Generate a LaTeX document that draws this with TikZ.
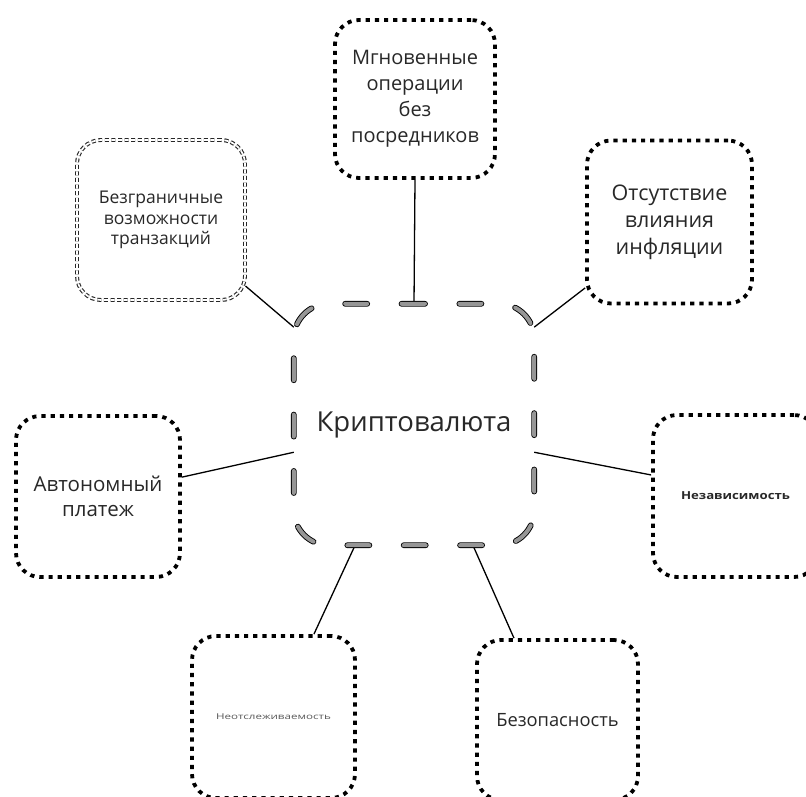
\documentclass[tikz,border=0pt]{standalone}
\usepackage{fontspec}
\setmainfont{Open Sans}
\usepackage{graphicx}
\definecolor{capgray}{RGB}{150,150,150}
\definecolor{txt}{RGB}{40,40,40}
\tikzset{
  dotbox/.style={draw=black, line width=3.8pt, dash pattern=on 4.2pt off 5pt, rounded corners=24pt, inner sep=0pt, align=center, text=txt},
  dblbox/.style={draw=black!85, line width=1.1pt, double=white, double distance=1.7pt, dash pattern=on 4pt off 2.6pt, rounded corners=24pt, inner sep=0pt, align=center, text=txt},
  conn/.style={draw=black, line width=1.3pt},
  core/.style={draw=black, line width=0.9pt, double=capgray, double distance=4pt, line cap=round, dash pattern=on 22pt off 34.375pt, dash phase=11pt, rounded corners=35pt},
  plain/.style={inner sep=0pt, align=center, text=txt}
}
\begin{document}
\begin{tikzpicture}[x=1pt,y=-1pt]
\useasboundingbox (0,0) rectangle (806,796);
\clip (0,0) rectangle (806,796);
\fill[white] (0,0) rectangle (806,796);

\node[plain, minimum width=240pt, minimum height=241pt, font=\fontsize{27.5}{32}\selectfont] (c) at (414,424.5) {Криптовалюта};

\node[dotbox, minimum width=160pt, minimum height=158pt, font=\fontsize{20}{26}\selectfont] (t) at (415,99)
  {Мгновенные\\операции\\без\\посредников};
\node[dblbox, minimum width=168pt, minimum height=160pt, font=\fontsize{17.5}{20.5}\selectfont] (tl) at (161,220)
  {Безграничные\\возможности\\транзакций};
\node[dotbox, minimum width=165pt, minimum height=163pt, font=\fontsize{21.5}{27}\selectfont] (tr) at (669.5,222)
  {Отсутствие\\влияния\\инфляции};
\node[dotbox, minimum width=164pt, minimum height=161pt, font=\fontsize{20.5}{25}\selectfont] (l) at (98,496.5)
  {Автономный\\платеж};
\node[dotbox, minimum width=165pt, minimum height=162pt] (r) at (735.5,496)
  {\scalebox{1.2}[1]{\fontsize{11}{13}\selectfont\bfseries Независимость}};
\node[dotbox, minimum width=163pt, minimum height=162pt] (bl) at (273.5,717)
  {\scalebox{1.45}[1]{\fontsize{8}{9}\selectfont\color{black!65}Неотслеживаемость}};
\node[dotbox, minimum width=161pt, minimum height=160pt, font=\fontsize{18.3}{21}\selectfont] (br) at (557.5,720)
  {Безопасность};

\draw[conn] (t.south) -- (c.north);
\draw[conn] (tl.-38) -- (c.141);
\draw[conn] (tr.-142) -- (c.39);
\draw[conn] (l.13) -- (c.-167);
\draw[conn] (r.166) -- (c.-13);
\draw[conn] (bl.64) -- (c.-116);
\draw[conn] (br.118) -- (c.-64);

\draw[core] (c.north) -- (c.north east) -- (c.south east) -- (c.south west) -- (c.north west) -- (c.north);
\end{tikzpicture}
\end{document}
